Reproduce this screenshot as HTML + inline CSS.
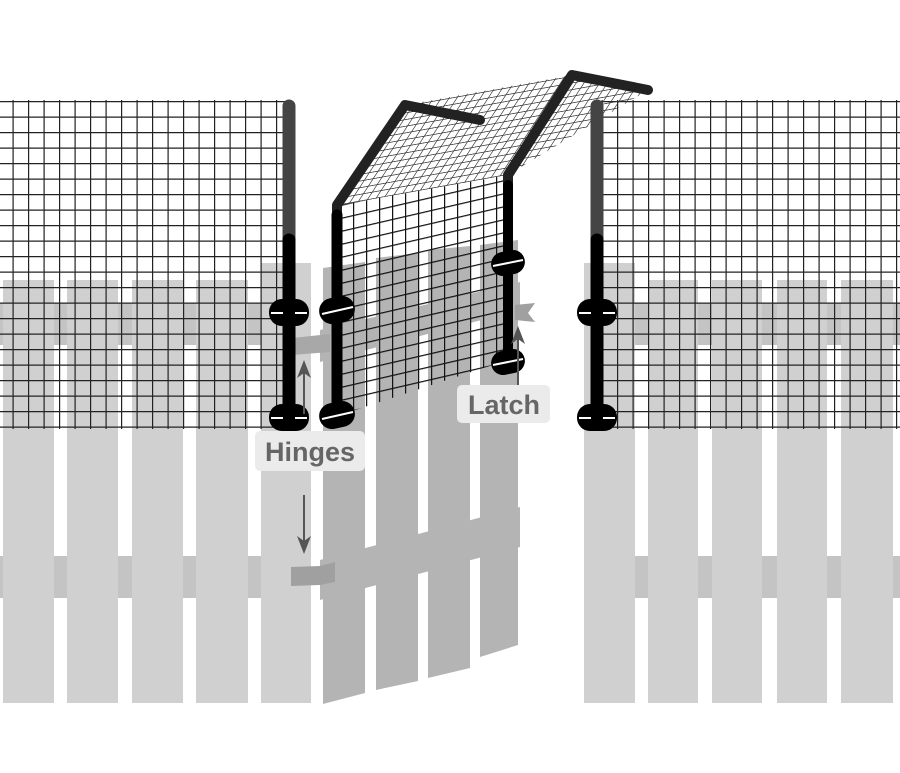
<!DOCTYPE html>
<html><head><meta charset="utf-8"><style>
html,body{margin:0;padding:0;background:#fff;width:900px;height:773px;overflow:hidden}
svg{display:block}
</style></head><body>
<svg width="900" height="773" viewBox="0 0 900 773" xmlns="http://www.w3.org/2000/svg">
<defs>
<pattern id="grid" width="15.5" height="15.5" patternUnits="userSpaceOnUse" x="12.5" y="101">
<path d="M0 0.6H15.5M0.6 0V15.5" stroke="#222" stroke-width="1.2" fill="none"/>
</pattern>
<pattern id="front" width="13" height="13" patternUnits="userSpaceOnUse" patternTransform="translate(340 205) skewY(-13)">
<path d="M0 0.6H13M0.6 0V13" stroke="#111" stroke-width="1.2" fill="none"/>
</pattern>
<pattern id="roof" width="9" height="9" patternUnits="userSpaceOnUse" patternTransform="matrix(0.984 -0.177 0.545 -0.838 340 205)">
<path d="M0 0.5H9M0.5 0V9" stroke="#333" stroke-width="0.9" fill="none"/>
</pattern>
</defs>

<g fill="#d0d0d0">
<rect x="3" y="280" width="51" height="423"/>
<rect x="67" y="280" width="51" height="423"/>
<rect x="132" y="280" width="51" height="423"/>
<rect x="196" y="280" width="52" height="423"/>
<rect x="261" y="263" width="50" height="440"/>
</g>
<g fill="#c4c4c4">
<rect x="0" y="303" width="3" height="42"/><rect x="54" y="303" width="13" height="42"/><rect x="118" y="303" width="14" height="42"/><rect x="183" y="303" width="13" height="42"/><rect x="248" y="303" width="13" height="42"/>
<rect x="0" y="556" width="3" height="42"/><rect x="54" y="556" width="13" height="42"/><rect x="118" y="556" width="14" height="42"/><rect x="183" y="556" width="13" height="42"/><rect x="248" y="556" width="13" height="42"/>
</g>
<g fill="#d0d0d0">
<rect x="584" y="263" width="51" height="440"/>
<rect x="648" y="280" width="50" height="423"/>
<rect x="712" y="280" width="50" height="423"/>
<rect x="777" y="280" width="50" height="423"/>
<rect x="841" y="280" width="52" height="423"/>
</g>
<g fill="#c4c4c4">
<rect x="635" y="303" width="13" height="42"/><rect x="698" y="303" width="14" height="42"/><rect x="762" y="303" width="15" height="42"/><rect x="827" y="303" width="14" height="42"/><rect x="893" y="303" width="7" height="42"/>
<rect x="635" y="556" width="13" height="42"/><rect x="698" y="556" width="14" height="42"/><rect x="762" y="556" width="15" height="42"/><rect x="827" y="556" width="14" height="42"/><rect x="893" y="556" width="7" height="42"/>
</g>

<g fill="#b4b4b4">
<polygon points="323,268 365,262 365,693 323,704"/>
<polygon points="376,258 418,253 418,681 376,690"/>
<polygon points="428,250 470,246 470,668 428,678"/>
<polygon points="480,245 518,240 518,645 480,657"/>
<polygon points="320,330 520,282 520,310 320,362"/>
<polygon points="320,560 520,507 520,547 320,600"/>
</g>
<polygon points="292,338 330,334 330,352 292,355" fill="#a8a8a8"/>
<polygon points="291,567 320,566 335,562 335,582 320,585 291,586" fill="#a0a0a0"/>
<polygon points="515,305 535,303 528,313 535,322 515,320" fill="#a0a0a0"/>

<rect x="0" y="100" width="291" height="329" fill="url(#grid)"/>
<rect x="600" y="100" width="300" height="329" fill="url(#grid)"/>
<polygon points="405,105 572,75 648,90 508,175 340,205" fill="url(#roof)"/>
<polygon points="340,205 508,175 508,360 340,415" fill="url(#front)"/>

<g stroke-linecap="round" fill="none">
<line x1="289" y1="106" x2="289" y2="240" stroke="#444" stroke-width="13"/>
<line x1="289" y1="240" x2="289" y2="420" stroke="#000" stroke-width="13"/>
<line x1="597" y1="106" x2="597" y2="240" stroke="#444" stroke-width="13"/>
<line x1="597" y1="240" x2="597" y2="420" stroke="#000" stroke-width="13"/>
<polyline points="337,420 337,205 405,105 480,120" stroke="#222" stroke-width="10" stroke-linejoin="round"/>
<line x1="337" y1="215" x2="337" y2="420" stroke="#000" stroke-width="11"/>
<polyline points="508,362 508,175 572,75 648,90" stroke="#222" stroke-width="10" stroke-linejoin="round"/>
<line x1="508" y1="185" x2="508" y2="362" stroke="#000" stroke-width="10"/>
</g>
<g fill="#000">
<rect x="269" y="299" width="40" height="27" rx="13"/>
<rect x="269" y="404" width="40" height="27" rx="13"/>
<rect x="577" y="299" width="40" height="27" rx="13"/>
<rect x="577" y="404" width="40" height="27" rx="13"/>
<rect x="319" y="297" width="36" height="26" rx="13" transform="rotate(-12 337 310)"/>
<rect x="319" y="402" width="36" height="26" rx="13" transform="rotate(-12 337 415)"/>
<rect x="491" y="251" width="34" height="24" rx="12" transform="rotate(-12 508 263)"/>
<rect x="491" y="350" width="34" height="24" rx="12" transform="rotate(-12 508 362)"/>
</g>
<g stroke="#fff" stroke-width="2">
<line x1="271" y1="313" x2="283" y2="313"/><line x1="295" y1="313" x2="307" y2="313"/>
<line x1="271" y1="418" x2="283" y2="418"/><line x1="295" y1="418" x2="307" y2="418"/>
<line x1="579" y1="313" x2="591" y2="313"/><line x1="603" y1="313" x2="615" y2="313"/>
<line x1="579" y1="418" x2="591" y2="418"/><line x1="603" y1="418" x2="615" y2="418"/>
<line x1="322" y1="314" x2="353" y2="307"/><line x1="322" y1="419" x2="353" y2="412"/>
<line x1="493" y1="266" x2="523" y2="260"/><line x1="493" y1="365" x2="523" y2="359"/>
</g>

<g stroke="#555" stroke-width="2" fill="#555">
<line x1="304" y1="414" x2="304" y2="368"/>
<polygon points="304,360 297,378 304,373 311,378" stroke="none"/>
<line x1="304" y1="495" x2="304" y2="545"/>
<polygon points="304,554 297,536 304,541 311,536" stroke="none"/>
<line x1="518" y1="388" x2="518" y2="334"/>
<polygon points="518,326 511,344 518,339 525,344" stroke="none"/>
</g>

<rect x="255" y="431" width="110" height="40" rx="5" fill="#ebebeb"/>
<text x="310" y="461" text-anchor="middle" font-family="Liberation Sans, sans-serif" font-weight="bold" font-size="27" fill="#666">Hinges</text>
<rect x="457" y="385" width="93" height="38" rx="5" fill="#ebebeb"/>
<text x="504" y="414" text-anchor="middle" font-family="Liberation Sans, sans-serif" font-weight="bold" font-size="27" fill="#666">Latch</text>
</svg>
</body></html>
